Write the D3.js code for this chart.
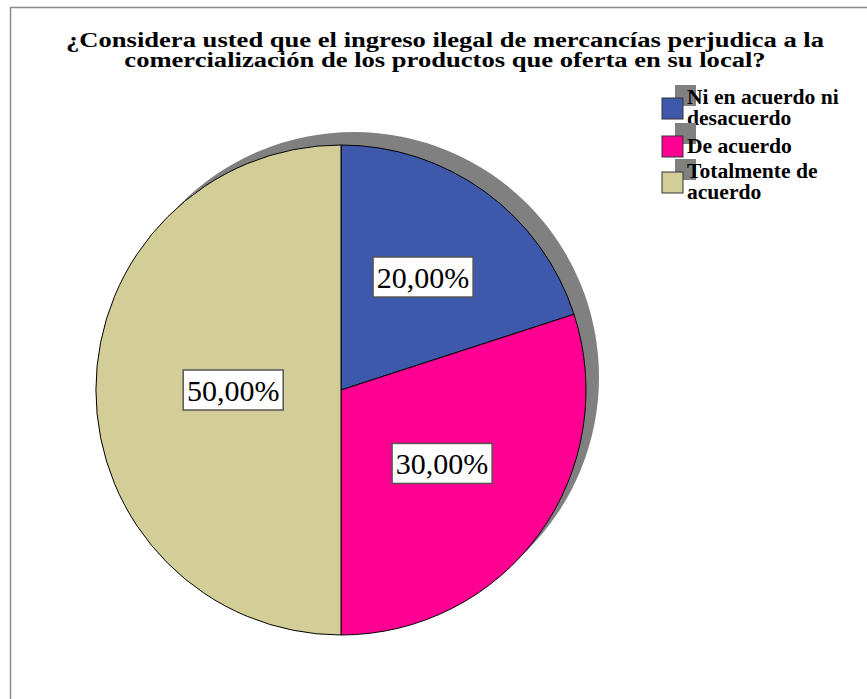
<!DOCTYPE html>
<html>
<head>
<meta charset="utf-8">
<script src="https://cdn.jsdelivr.net/npm/d3@7"></script>
<style>
  body { margin: 0; background: #fff; }
  svg { display: block; }
</style>
</head>
<body>
<div id="chart"></div>
<script>
// data
var categories = ["Ni en acuerdo ni desacuerdo", "De acuerdo", "Totalmente de acuerdo"];
var percents = [20, 30, 50];
var legendLines = [["Ni en acuerdo ni", "desacuerdo"], ["De acuerdo"], ["Totalmente de", "acuerdo"]];
var titleLines = [
    "¿Considera usted que el ingreso ilegal de mercancías perjudica a la",
    "comercialización de los productos que oferta en su local?"
];

var width = 867,
    height = 699;

var cx = 341, cy = 390, radius = 245, depth = 13;
var serif = "'Liberation Serif', 'Times New Roman', serif";

var color = d3.scaleOrdinal()
    .domain(categories)
    .range(["#3e58ac", "#ff0092", "#d3ce98"]);

var svg = d3.select("#chart")
    .append("svg")
    .attr("width", width)
    .attr("height", height);

// frame (only top and left edges show)
svg.append("path")
    .attr("d", "M10.5," + height + "V7.5H" + width)
    .attr("fill", "none")
    .attr("stroke", "#8a8a8a")
    .attr("stroke-width", 1.5);

// title - the original font is stretched sideways
svg.append("g")
    .selectAll("g")
    .data(titleLines)
    .enter().append("g")
      .attr("transform", function (d, i) { return "translate(445," + (47 + i * 20) + ") scale(1.33,1)"; })
    .append("text")
      .attr("text-anchor", "middle")
      .style("font-family", serif)
      .style("font-weight", "bold")
      .style("font-size", "20px")
      .text(function (d) { return d; });

var pie = d3.pie().sort(null).value(function (d) { return d; });
var arcs = pie(percents);

var arc = d3.arc().innerRadius(0).outerRadius(radius);

// grey extrusion behind the pie
svg.append("circle")
    .attr("cx", cx + depth)
    .attr("cy", cy - depth)
    .attr("r", radius)
    .attr("fill", "#808080");

var g = svg.append("g")
    .attr("transform", "translate(" + cx + "," + cy + ")");

g.selectAll("path")
    .data(arcs)
    .enter().append("path")
      .attr("d", arc)
      .attr("fill", function (d, i) { return color(categories[i]); })
      .attr("stroke", "#000")
      .attr("stroke-width", 1);

// labels sit at different depths in the original
var labelFrac = [0.57, 0.51, 0.44];
var fmt = function (v) { return v.toFixed(2).replace(".", ",") + "%"; };

var label = g.selectAll("g.lbl")
    .data(arcs)
    .enter().append("g")
      .attr("class", "lbl")
      .attr("transform", function (d, i) {
          var r = radius * labelFrac[i];
          var c = d3.arc().innerRadius(r).outerRadius(r).centroid(d);
          return "translate(" + c[0] + "," + c[1] + ")";
      });

label.append("rect")
    .attr("x", -50)
    .attr("y", -20)
    .attr("width", 100)
    .attr("height", 40)
    .attr("fill", "#fff")
    .attr("stroke", "#555")
    .attr("stroke-width", 1.5);

label.append("text")
    .attr("text-anchor", "middle")
    .attr("dy", "0.35em")
    .style("font-family", serif)
    .style("font-size", "30px")
    .text(function (d) { return fmt(d.value); });

// legend
var legendTop = [98, 136, 172];
var legend = svg.append("g")
    .selectAll("g")
    .data(categories)
    .enter().append("g")
      .attr("transform", function (d, i) { return "translate(662," + legendTop[i] + ")"; });

legend.append("rect")
    .attr("x", depth)
    .attr("y", -depth)
    .attr("width", 21)
    .attr("height", 21)
    .attr("fill", "#808080");

legend.append("rect")
    .attr("width", 21)
    .attr("height", 21)
    .attr("fill", function (d) { return color(d); })
    .attr("stroke", "#333")
    .attr("stroke-width", 1);

legend.append("g")
    .attr("transform", function (d, i) {
        var y = legendLines[i].length > 1 ? 6 : 17;
        return "translate(25," + y + ") scale(1.08,1)";
    })
  .append("text")
    .style("font-family", serif)
    .style("font-weight", "bold")
    .style("font-size", "20px")
    .selectAll("tspan")
    .data(function (d, i) { return legendLines[i]; })
    .enter().append("tspan")
      .attr("x", 0)
      .attr("dy", function (d, i) { return i === 0 ? 0 : 21.5; })
      .text(function (d) { return d; });
</script>
</body>
</html>
